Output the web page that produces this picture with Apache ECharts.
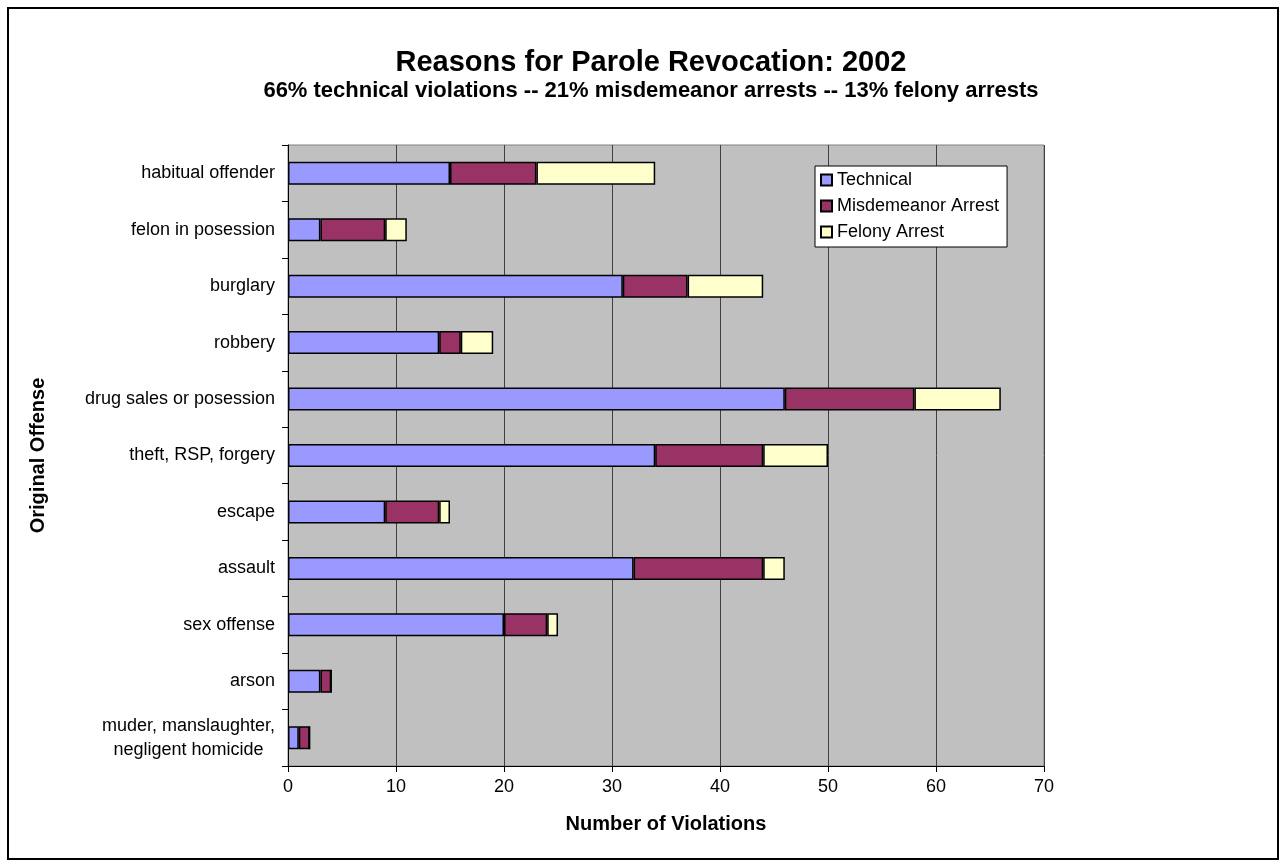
<!DOCTYPE html>
<html>
<head>
<meta charset="utf-8">
<script src="https://cdn.jsdelivr.net/npm/echarts@6/dist/echarts.min.js"></script>
<style>
html,body{margin:0;padding:0;background:#fff;}
#c{width:1285px;height:867px;}
</style>
</head>
<body>
<div id="c"></div>
<script>
const categories = [
  "muder, manslaughter,\nnegligent homicide",
  "arson",
  "sex offense",
  "assault",
  "escape",
  "theft, RSP, forgery",
  "drug sales or posession",
  "robbery",
  "burglary",
  "felon in posession",
  "habitual offender"
];
const technical   = [1, 3, 20, 32, 9, 34, 46, 14, 31, 3, 15];
const misdemeanor = [1, 1, 4, 12, 5, 10, 12, 2, 6, 6, 8];
const felony      = [0, 0, 1, 2, 1, 6, 8, 3, 7, 2, 11];
const xTicks = [0, 10, 20, 30, 40, 50, 60, 70];

const FONT = '"Liberation Sans", Arial, sans-serif';
const chart = echarts.init(document.getElementById('c'), null, {renderer: 'canvas'});

function barSeries(name, data, color) {
  return {
    name: name, type: 'bar', stack: 'total', data: data,
    barWidth: 23,
    itemStyle: {color: color, borderColor: '#000', borderWidth: 1.5},
    emphasis: {disabled: true}
  };
}

chart.setOption({
  animation: false,
  backgroundColor: '#fff',
  graphic: [{
    type: 'rect', shape: {x: 8, y: 8, width: 1270, height: 851},
    style: {fill: 'none', stroke: '#000', lineWidth: 2}, z: 100, silent: true
  }],
  title: [{
    text: 'Reasons for Parole Revocation: 2002',
    left: 651, top: 48, textAlign: 'center', padding: 0,
    textStyle: {fontFamily: FONT, fontWeight: 'bold', fontSize: 29, color: '#000'}
  }, {
    text: '66% technical violations -- 21% misdemeanor arrests -- 13% felony arrests',
    left: 651, top: 80, textAlign: 'center', padding: 0,
    textStyle: {fontFamily: FONT, fontWeight: 'bold', fontSize: 22, color: '#000'}
  }],
  legend: {
    orient: 'vertical', left: 815, top: 166,
    data: ['Technical', 'Misdemeanor Arrest', 'Felony Arrest'],
    icon: 'rect', itemWidth: 11, itemHeight: 11, itemGap: 8,
    backgroundColor: '#fff', borderColor: '#000', borderWidth: 1,
    padding: [5, 8, 6, 5],
    textStyle: {fontFamily: FONT, fontSize: 18, color: '#000'}
  },
  grid: {
    left: 288, right: 241, top: 145, bottom: 101,
    show: true, backgroundColor: '#C0C0C0', borderColor: '#808080', borderWidth: 1
  },
  xAxis: {
    type: 'value', min: 0, max: 70, interval: 10,
    name: 'Number of Violations', nameLocation: 'middle', nameGap: 48,
    nameTextStyle: {fontFamily: FONT, fontWeight: 'bold', fontSize: 20, color: '#000'},
    axisLine: {show: true, lineStyle: {color: '#000', width: 1}},
    axisTick: {show: true, length: 6, lineStyle: {color: '#000'}},
    axisLabel: {
      fontFamily: FONT, fontSize: 18, color: '#000', margin: 12,
      formatter: function (v) { return xTicks.indexOf(v) >= 0 ? String(v) : ''; }
    },
    splitLine: {show: true, lineStyle: {color: '#404040', width: 1}}
  },
  yAxis: {
    type: 'category', data: categories,
    name: 'Original Offense', nameLocation: 'middle', nameGap: 240, nameRotate: 90,
    nameTextStyle: {fontFamily: FONT, fontWeight: 'bold', fontSize: 20, color: '#000'},
    axisLine: {show: true, lineStyle: {color: '#000', width: 1}},
    axisTick: {show: true, length: 6, lineStyle: {color: '#000'}},
    axisLabel: {
      fontFamily: FONT, fontSize: 18, color: '#000', margin: 13, lineHeight: 24,
      formatter: function (v) { return v.split('\n').map(function (s) { return '{c|' + s + '}'; }).join('\n'); },
      rich: {c: {fontFamily: FONT, fontSize: 18, color: '#000', align: 'center', lineHeight: 24}}
    },
    splitLine: {show: false}
  },
  series: [
    barSeries('Technical', technical, '#9999FF'),
    barSeries('Misdemeanor Arrest', misdemeanor, '#993366'),
    barSeries('Felony Arrest', felony, '#FFFFCC')
  ]
});
</script>
</body>
</html>
